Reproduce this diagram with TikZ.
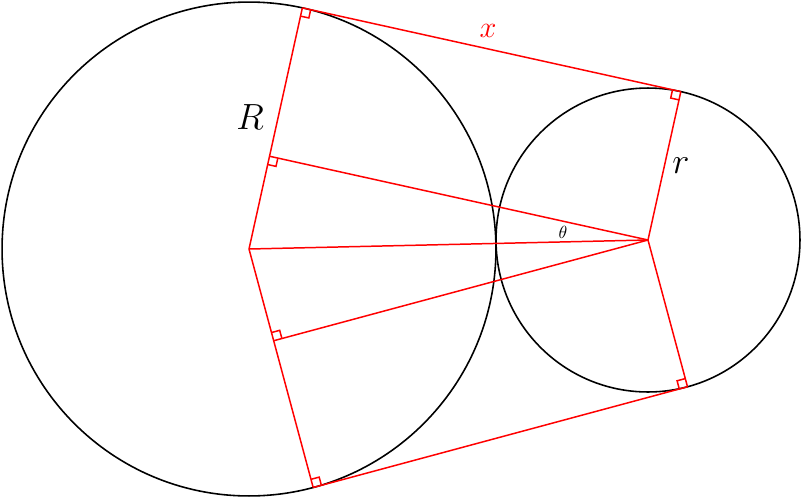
\documentclass[tikz,border=0pt]{standalone}
\usetikzlibrary{calc}
\tikzset{
  circ/.style={draw=black,line width=0.9pt},
  redline/.style={draw=red,line width=0.85pt},
  lbl/.style={inner sep=0pt,text=black},
}
\newcommand{\rs}{0.17cm}
\newcommand{\ramark}[3]{\draw[redline] ($(#1)!\rs!(#2)$) -- ($(#1)!\rs!(#2) + (#1)!\rs!(#3) - (#1)$) -- ($(#1)!\rs!(#3)$);}
\begin{document}
\begin{tikzpicture}[x=0.02cm,y=-0.02cm]
\useasboundingbox (0,0) rectangle (802,498);
\coordinate (C1) at (249,249);
\coordinate (C2) at (648,240);
\coordinate (T1) at (302.37,7.83);
\coordinate (T2) at (680.84,91.59);
\coordinate (F1) at (269.53,156.24);
\coordinate (B1) at (313.19,487.52);
\coordinate (B2) at (687.50,386.78);
\coordinate (F2) at (273.69,340.74);
\draw[circ] (C1) circle[radius=4.94cm];
\draw[circ] (C2) circle[radius=3.04cm];
\draw[redline] (C1) -- (T1);
\draw[redline] (C1) -- (B1);
\draw[redline] (C2) -- (T2);
\draw[redline] (C2) -- (B2);
\draw[redline] (T1) -- (T2);
\draw[redline] (B1) -- (B2);
\draw[redline] (C1) -- (C2);
\draw[redline] (F1) -- (C2);
\draw[redline] (F2) -- (C2);
\ramark{T1}{C1}{T2}
\ramark{T2}{C2}{T1}
\ramark{F1}{C1}{C2}
\ramark{F2}{C1}{C2}
\ramark{B1}{C1}{B2}
\ramark{B2}{C2}{B1}
\node[lbl,text=red] (lx) at (488,31) {\fontsize{18}{21}\selectfont $x$};
\node[lbl] (lR) at (250,117) {\fontsize{22}{25}\selectfont $R$};
\node[lbl] (lr) at (681,166) {\fontsize{20}{23}\selectfont $r$};
\node[lbl] (lt) at (563,232) {\fontsize{10}{12}\selectfont $\theta$};
\end{tikzpicture}
\end{document}
